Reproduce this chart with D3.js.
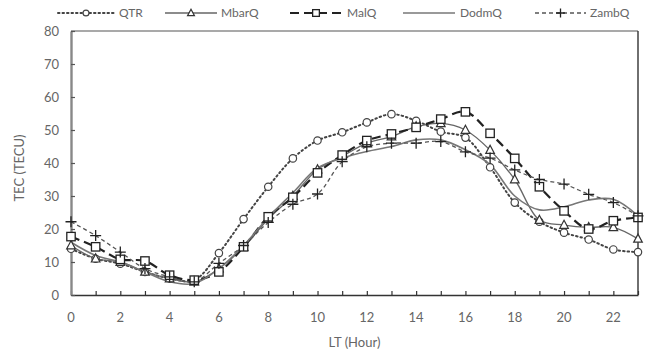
<!DOCTYPE html>
<html><head><meta charset="utf-8">
<script src="https://cdn.jsdelivr.net/npm/d3@7"></script>
<style>body{margin:0;background:#fff}svg{display:block}</style>
</head><body><svg id="c" width="654" height="354"></svg>
<script>
const hours = d3.range(0, 24);
const xTicks = [0,2,4,6,8,10,12,14,16,18,20,22];
const yTicks = [0,10,20,30,40,50,60,70,80];
const seriesNames = ["QTR","MbarQ","MalQ","DodmQ","ZambQ"];
const QTR   = [14,11,9.5,7,5,4.5,12.7,23,32.8,41.4,46.8,49.3,52.3,54.8,52.8,49.5,47.7,38.7,28,22.2,18.9,16.8,13.8,13];
const MbarQ = [15,11,10,7,5,4,8,14.5,23,30,38,42,46,48,51,52,50,43.9,35,22.7,21.2,20.5,20.5,17];
const MalQ  = [17.7,14.6,10.8,10.3,6,4.5,7,14.6,23.7,29.6,37,42.4,46.8,48.8,50.8,53.3,55.5,49,41.4,32.8,25.5,20,22.5,23.5];
const DodmQ = [16,12,10,7,4,3.5,8,15,23.5,31,38.5,41.5,43.5,45,47,47,44,39.5,30,25.8,26.7,28.8,29,24];
const ZambQ = [22.2,18,13,8,5.5,4,9.6,15,22,27.5,30.6,40.4,44.9,46,46,46.5,43.4,41.5,37.9,35,33.6,30.5,28,24];
const seriesValues = [QTR,MbarQ,MalQ,DodmQ,ZambQ];

const styles = {
  QTR:   {stroke:"#444", width:2, dash:"1.5,3", cap:"round", marker:"circle"},
  MbarQ: {stroke:"#666", width:1.3, dash:null, cap:"butt", marker:"triangle"},
  MalQ:  {stroke:"#222", width:2.2, dash:"9,5", cap:"butt", marker:"square"},
  DodmQ: {stroke:"#777", width:1.6, dash:null, cap:"butt", marker:"none"},
  ZambQ: {stroke:"#555", width:1.3, dash:"4,3", cap:"butt", marker:"plus"}
};

const svg = d3.select("#c");
const m = {l:71, r:638, t:31, b:295};
const x = d3.scaleLinear().domain([0,23]).range([m.l, m.r]);
const y = d3.scaleLinear().domain([0,80]).range([m.b, m.t]);
const font = "Lato, 'Open Sans', sans-serif";
const textColor = "#666";

// plot border
svg.append("line").attr("x1",m.l).attr("x2",m.r).attr("y1",m.t).attr("y2",m.t).attr("stroke","#555").attr("stroke-width",1.2);
svg.append("line").attr("x1",m.r).attr("x2",m.r).attr("y1",m.t).attr("y2",m.b).attr("stroke","#333").attr("stroke-width",1.4);

// x axis
const xAxis = svg.append("g").attr("transform",`translate(0,${m.b})`)
  .call(d3.axisBottom(x).tickValues(hours).tickSizeInner(-4).tickSizeOuter(0).tickFormat(""));
xAxis.select(".domain").attr("stroke","#333").attr("stroke-width",1.6);
xAxis.selectAll(".tick line").attr("stroke","#333").attr("stroke-width",1.2);
svg.append("g").selectAll("text").data(xTicks).join("text")
  .attr("x",d=>x(d)).attr("y",m.b+27).attr("text-anchor","middle")
  .attr("font-family",font).attr("font-size",13).attr("fill",textColor).text(d=>d);

// y axis
const yAxis = svg.append("g").attr("transform",`translate(${m.l},0)`)
  .call(d3.axisLeft(y).tickValues(yTicks).tickSizeInner(-4).tickSizeOuter(0).tickFormat(""));
yAxis.select(".domain").attr("stroke","#888").attr("stroke-width",2.4);
yAxis.selectAll(".tick line").attr("stroke","#555").attr("stroke-width",1.2);
svg.append("g").selectAll("text").data(yTicks).join("text")
  .attr("x",m.l-12).attr("y",d=>y(d)+5).attr("text-anchor","end")
  .attr("font-family",font).attr("font-size",13).attr("fill",textColor).text(d=>d);

svg.append("text").attr("transform",`translate(24,${(m.t+m.b)/2+5}) rotate(-90)`)
  .attr("text-anchor","middle").attr("font-family",font).attr("font-size",13).attr("fill",textColor).text("TEC (TECU)");
svg.append("text").attr("x",(m.l+m.r)/2).attr("y",347).attr("text-anchor","middle")
  .attr("font-family",font).attr("font-size",13).attr("fill",textColor).text("LT (Hour)");

function drawMarker(g, type, cx, cy, sc){
  sc = sc || 1;
  if(type==="circle") g.append("circle").attr("cx",cx).attr("cy",cy).attr("r",3.7*sc).attr("fill","#fff").attr("stroke","#444").attr("stroke-width",1.2);
  else if(type==="square") g.append("rect").attr("x",cx-4.2*sc).attr("y",cy-4.2*sc).attr("width",8.4*sc).attr("height",8.4*sc).attr("fill","#fff").attr("stroke","#222").attr("stroke-width",1.3);
  else if(type==="triangle") g.append("path").attr("d",`M${cx},${cy-4.8*sc}L${cx+4.3*sc},${cy+3.3*sc}L${cx-4.3*sc},${cy+3.3*sc}Z`).attr("fill","#fff").attr("stroke","#333").attr("stroke-width",1.2);
  else if(type==="plus") g.append("path").attr("d",`M${cx-5.5*sc},${cy}H${cx+5.5*sc}M${cx},${cy-5.5*sc}V${cy+5.5*sc}`).attr("stroke","#222").attr("stroke-width",1.3);
}

const line = d3.line().x((d,i)=>x(hours[i])).y(d=>y(d)).curve(d3.curveCatmullRom.alpha(0.5));
const plot = svg.append("g");
seriesNames.forEach((name,k)=>{
  const s = styles[name];
  plot.append("path").datum(seriesValues[k]).attr("d",line).attr("fill","none")
    .attr("stroke",s.stroke).attr("stroke-width",s.width).attr("stroke-dasharray",s.dash).attr("stroke-linecap",s.cap);
});
seriesNames.forEach((name,k)=>{
  const s = styles[name];
  if(s.marker==="none") return;
  const g = plot.append("g");
  seriesValues[k].forEach((v,i)=>drawMarker(g, s.marker, x(hours[i]), y(v)));
});

// legend
const legendItems = [
  {name:"QTR", x0:58, x1:114, tx:119},
  {name:"MbarQ", x0:165, x1:217, tx:221},
  {name:"MalQ", x0:290, x1:342, tx:347},
  {name:"DodmQ", x0:403, x1:455, tx:460},
  {name:"ZambQ", x0:535, x1:586, tx:590}
];
const lg = svg.append("g");
legendItems.forEach(it=>{
  const s = styles[it.name];
  lg.append("line").attr("x1",it.x0).attr("x2",it.x1).attr("y1",13).attr("y2",13)
    .attr("stroke",s.stroke).attr("stroke-width",s.width).attr("stroke-dasharray",s.dash).attr("stroke-linecap",s.cap);
  if(s.marker!=="none") drawMarker(lg, s.marker, (it.x0+it.x1)/2, 13, 0.8);
  lg.append("text").attr("x",it.tx).attr("y",17).attr("font-family",font).attr("font-size",12)
    .attr("fill",textColor).text(it.name);
});
</script></body></html>
